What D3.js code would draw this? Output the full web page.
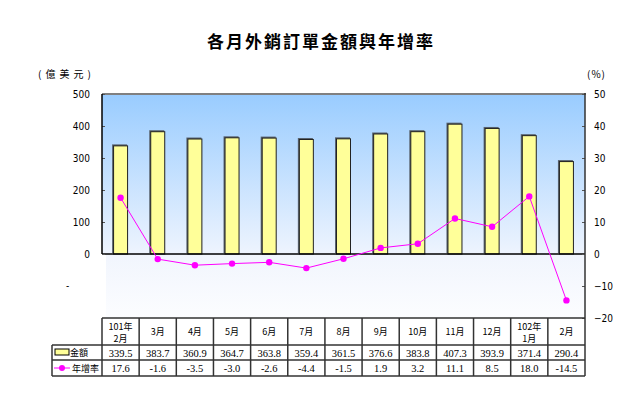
<!DOCTYPE html>
<html>
<head>
<meta charset="utf-8">
<script src="https://cdn.jsdelivr.net/npm/d3@7"></script>
<style>
    body { margin: 0; background: #fff; }
    text { font-family: "Liberation Serif", "Noto Sans CJK TC", serif; }
    .cjk { font-family: "Noto Sans CJK TC", sans-serif; }
    .axis text { font-family: "DejaVu Sans Condensed", "Liberation Sans", sans-serif; font-size: 10px; }
</style>
</head>
<body>
<svg id="chart" width="643" height="396"></svg>
<script>
var months = ["101年|2月", "3月", "4月", "5月", "6月", "7月", "8月", "9月", "10月", "11月", "12月", "102年|1月", "2月"],
    amounts = [339.5, 383.7, 360.9, 364.7, 363.8, 359.4, 361.5, 376.6, 383.8, 407.3, 393.9, 371.4, 290.4],
    growth = [17.6, -1.6, -3.5, -3.0, -2.6, -4.4, -1.5, 1.9, 3.2, 11.1, 8.5, 18.0, -14.5],
    leftTicks = [0, 100, 200, 300, 400, 500],
    rightTicks = [-20, -10, 0, 10, 20, 30, 40, 50];

var plot = { left: 102, right: 585, top: 94, bottom: 318 },
    table = { legendLeft: 52, headTop: 318, rowA: 345, rowB: 360, bottom: 376 },
    svg = d3.select("#chart");

var x = d3.scaleBand()
    .domain(d3.range(months.length))
    .range([plot.left, plot.right]);
var yL = d3.scaleLinear().domain([-200, 500]).range([plot.bottom, plot.top]);
var yR = d3.scaleLinear().domain([-20, 50]).range([plot.bottom, plot.top]);
var zeroY = yL(0);

var defs = svg.append("defs");
var gUp = defs.append("linearGradient").attr("id", "gUp")
    .attr("x1", 0).attr("y1", 0).attr("x2", 0).attr("y2", 1);
gUp.append("stop").attr("offset", "0").attr("stop-color", "#99ccff");
gUp.append("stop").attr("offset", "1").attr("stop-color", "#eef4fe");
var gDown = defs.append("linearGradient").attr("id", "gDown")
    .attr("x1", 0).attr("y1", 0).attr("x2", 0).attr("y2", 1);
gDown.append("stop").attr("offset", "0").attr("stop-color", "#f1f5fd");
gDown.append("stop").attr("offset", "1").attr("stop-color", "#fcfdff");

// title + units
svg.append("text")
    .attr("class", "cjk")
    .attr("x", 321).attr("y", 48)
    .attr("text-anchor", "middle")
    .style("font-size", "17px")
    .style("font-weight", "bold")
    .style("letter-spacing", "2px")
    .text("各月外銷訂單金額與年增率");
svg.append("text").attr("class", "cjk")
    .attr("x", 38).attr("y", 78)
    .style("font-size", "10px").style("letter-spacing", "4px")
    .text("(億美元)");
svg.append("text").attr("class", "cjk")
    .attr("x", 587).attr("y", 78)
    .style("font-size", "10px").style("letter-spacing", "1px")
    .text("(%)");

// background
svg.append("rect")
    .attr("x", plot.left).attr("y", plot.top)
    .attr("width", plot.right - plot.left).attr("height", zeroY - plot.top)
    .attr("fill", "url(#gUp)");
svg.append("rect")
    .attr("x", plot.left + 4).attr("y", zeroY)
    .attr("width", plot.right - plot.left - 4).attr("height", plot.bottom - zeroY)
    .attr("fill", "url(#gDown)");

// bars (with shadow)
var bw = 15;
var bars = svg.append("g");
bars.selectAll("rect.shadow")
    .data(amounts).enter()
    .append("rect")
    .attr("x", function(d, i) { return x(i) + x.bandwidth() / 2 - bw / 2 - 1; })
    .attr("y", function(d) { return yL(d) - 1; })
    .attr("width", bw)
    .attr("height", function(d) { return zeroY - yL(d); })
    .attr("fill", "#5a6470");
bars.selectAll("rect.bar")
    .data(amounts).enter()
    .append("rect")
    .attr("x", function(d, i) { return x(i) + x.bandwidth() / 2 - bw / 2 + 0.5; })
    .attr("y", function(d) { return yL(d) + 0.5; })
    .attr("width", bw - 1)
    .attr("height", function(d) { return zeroY - yL(d) - 0.5; })
    .attr("fill", "#ffff99")
    .attr("stroke", "#222")
    .attr("stroke-width", 1);

// frame
svg.append("line")
    .attr("x1", plot.left).attr("x2", plot.right + 1)
    .attr("y1", plot.top).attr("y2", plot.top)
    .attr("stroke", "#808080").attr("stroke-width", 2);
svg.append("line")
    .attr("x1", plot.left).attr("x2", plot.right)
    .attr("y1", zeroY).attr("y2", zeroY)
    .attr("stroke", "#000").attr("stroke-width", 1.5);

// left axis
var axL = svg.append("g").attr("class", "axis")
    .attr("transform", "translate(" + plot.left + ",0)")
    .call(d3.axisLeft(yL).tickValues(leftTicks).tickSize(-3).tickPadding(12));
axL.select(".domain").remove();
axL.append("line")
    .attr("y1", plot.top).attr("y2", zeroY)
    .attr("stroke", "#000").attr("stroke-width", 1.5);
axL.selectAll(".tick line").attr("stroke", "#555");
axL.selectAll(".tick text").attr("fill", "#000");
svg.append("text").attr("class", "axis")
    .attr("x", 66).attr("y", 289)
    .style("font-size", "10px").style("font-family", "DejaVu Sans Condensed")
    .text("-");

// right axis
var axR = svg.append("g").attr("class", "axis")
    .attr("transform", "translate(" + plot.right + ",0)")
    .call(d3.axisRight(yR).tickValues(rightTicks).tickSize(-3).tickPadding(9));
axR.select(".domain").remove();
axR.append("line")
    .attr("y1", plot.top - 1).attr("y2", plot.bottom)
    .attr("stroke", "#333").attr("stroke-width", 1.5);
axR.selectAll(".tick line").attr("stroke", "#555");
axR.selectAll(".tick text").attr("fill", "#000");

// growth line
var cx = function(d, i) { return x(i) + x.bandwidth() / 2; };
var line = d3.line()
    .x(function(d, i) { return cx(d, i); })
    .y(function(d) { return yR(d); });
svg.append("path")
    .datum(growth)
    .attr("d", line)
    .attr("fill", "none")
    .attr("stroke", "#ff00ff")
    .attr("stroke-width", 1);
svg.selectAll("circle.pt")
    .data(growth).enter()
    .append("circle")
    .attr("cx", cx)
    .attr("cy", function(d) { return yR(d); })
    .attr("r", 3.2)
    .attr("fill", "#ff00ff");

// data table
var tb = svg.append("g").attr("class", "table");
var edges = x.domain().map(function(i) { return x(i); }).concat([plot.right]);
tb.selectAll("line.v")
    .data(edges).enter()
    .append("line")
    .attr("x1", function(d) { return d; }).attr("x2", function(d) { return d; })
    .attr("y1", table.headTop).attr("y2", table.bottom)
    .attr("stroke", "#333").attr("stroke-width", 1.5);
tb.append("line")
    .attr("x1", table.legendLeft).attr("x2", table.legendLeft)
    .attr("y1", table.rowA).attr("y2", table.bottom)
    .attr("stroke", "#333").attr("stroke-width", 1.5);
[table.rowA, table.rowB, table.bottom].forEach(function(yy) {
    tb.append("line")
        .attr("x1", table.legendLeft).attr("x2", plot.right)
        .attr("y1", yy).attr("y2", yy)
        .attr("stroke", "#333").attr("stroke-width", 1.5);
});
tb.append("line")
    .attr("x1", plot.left).attr("x2", plot.right)
    .attr("y1", table.headTop).attr("y2", table.headTop)
    .attr("stroke", "#333").attr("stroke-width", 1.5);

months.forEach(function(m, i) {
    var parts = m.split("|"),
        mx = x(i) + x.bandwidth() / 2;
    if (parts.length === 2) {
        tb.append("text").attr("class", "cjk").attr("x", mx).attr("y", 330)
            .attr("text-anchor", "middle").style("font-size", "9px").text(parts[0]);
        tb.append("text").attr("class", "cjk").attr("x", mx).attr("y", 342)
            .attr("text-anchor", "middle").style("font-size", "9px").text(parts[1]);
    } else {
        tb.append("text").attr("class", "cjk").attr("x", mx).attr("y", 335)
            .attr("text-anchor", "middle").style("font-size", "9px").text(parts[0]);
    }
});
tb.selectAll("text.amt")
    .data(amounts).enter()
    .append("text")
    .attr("x", cx).attr("y", table.rowA + 11.5)
    .attr("text-anchor", "middle")
    .style("font-size", "10.5px")
    .text(function(d) { return d.toFixed(1); });
tb.selectAll("text.gr")
    .data(growth).enter()
    .append("text")
    .attr("x", cx).attr("y", table.rowB + 12)
    .attr("text-anchor", "middle")
    .style("font-size", "10.5px")
    .text(function(d) { return d.toFixed(1); });

// legend keys
tb.append("rect")
    .attr("x", 55).attr("y", 349).attr("width", 14).attr("height", 6)
    .attr("fill", "#ffff99").attr("stroke", "#000");
tb.append("text").attr("class", "cjk")
    .attr("x", 70).attr("y", 356).style("font-size", "9px").text("金額");
tb.append("line")
    .attr("x1", 54).attr("x2", 70).attr("y1", 368).attr("y2", 368)
    .attr("stroke", "#ff00ff");
tb.append("circle").attr("cx", 62).attr("cy", 368).attr("r", 3).attr("fill", "#ff00ff");
tb.append("text").attr("class", "cjk")
    .attr("x", 72).attr("y", 372).style("font-size", "9px").text("年增率");
</script>
</body>
</html>
